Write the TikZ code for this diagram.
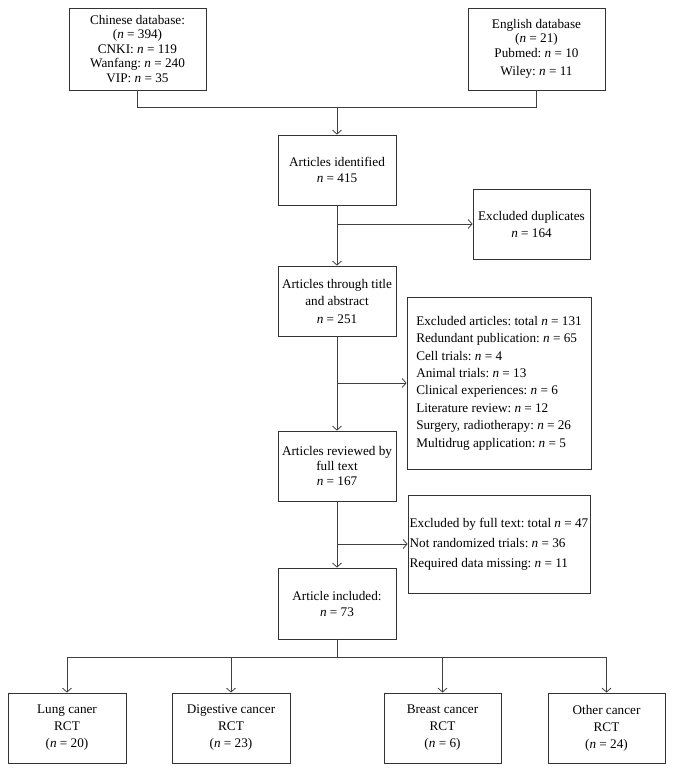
\documentclass[tikz,border=0pt]{standalone}
\usepackage{fontspec}
\setmainfont{Liberation Serif}
\usetikzlibrary{arrows.meta}
\newcommand\nvar{\textit{n}}
\frenchspacing
\begin{document}
\begin{tikzpicture}[x=1pt,y=-1pt,
  box/.style={draw=black!80,line width=0.8pt,align=center,inner sep=0pt,text=black},
  fs/.style={font=\frenchspacing\fontsize{13.2}{#1}\selectfont},
  ln/.style={draw=black!75,line width=0.8pt},
  arr/.style={ln,-{Straight Barb[length=4pt,width=9pt]}}]
\useasboundingbox (0,0) rectangle (674,772);

\node[box,fs=14.5,minimum width=137pt,minimum height=82pt] (chin) at (137.5,49)
  {Chinese database:\\(\nvar{} = 394)\\CNKI: \nvar{} = 119\\Wanfang: \nvar{} = 240\\VIP: \nvar{} = 35};
\node[box,fs=14.5,minimum width=137pt,minimum height=82pt] (eng) at (536.5,49)
  {English database\\(\nvar{} = 21)\\Pubmed: \nvar{} = 10\\[4pt]Wiley: \nvar{} = 11};
\node[box,fs=16,minimum width=118pt,minimum height=70pt] (ai) at (337,170)
  {Articles identified\\\nvar{} = 415};
\node[box,fs=17,minimum width=117pt,minimum height=70pt] (ed) at (531.5,224)
  {Excluded duplicates\\\nvar{} = 164};
\node[box,fs=17.5,minimum width=118pt,minimum height=70pt] (att) at (337,301)
  {Articles through title\\and abstract\\\nvar{} = 251};
\node[box,fs=17.4,align=left,minimum width=184pt,minimum height=172pt] (ea) at (499,383)
  {Excluded articles: total \nvar{} = 131\\Redundant publication: \nvar{} = 65\\Cell trials: \nvar{} = 4\\Animal trials: \nvar{} = 13\\Clinical experiences: \nvar{} = 6\\Literature review: \nvar{} = 12\\Surgery, radiotherapy: \nvar{} = 26\\Multidrug application: \nvar{} = 5};
\node[box,fs=15,minimum width=118pt,minimum height=70pt] (arb) at (337,466)
  {Articles reviewed by\\full text\\\nvar{} = 167};
\node[box,fs=20,align=left,minimum width=182pt,minimum height=98pt] (eft) at (499,544)
  {Excluded by full text: total \nvar{} = 47\\Not randomized trials: \nvar{} = 36\\Required data missing: \nvar{} = 11};
\node[box,fs=16,minimum width=118pt,minimum height=71pt] (ain) at (337,603.5)
  {Article included:\\\nvar{} = 73};
\node[box,fs=17,minimum width=118pt,minimum height=70pt] (lung) at (67,728)
  {Lung caner\\RCT\\(\nvar{} = 20)};
\node[box,fs=17,minimum width=118pt,minimum height=70pt] (dig) at (231,728)
  {Digestive cancer\\RCT\\(\nvar{} = 23)};
\node[box,fs=17,minimum width=117pt,minimum height=70pt] (brs) at (442.5,728)
  {Breast cancer\\RCT\\(\nvar{} = 6)};
\node[box,fs=17,minimum width=117pt,minimum height=70pt] (oth) at (606.5,728)
  {Other cancer\\RCT\\(\nvar{} = 24)};

\coordinate (j) at (337,107);
\coordinate (b) at (337,657);
\coordinate (s1) at (ai.south |- ed.west);
\coordinate (s2) at (att.south |- ea.west);
\coordinate (s3) at (arb.south |- eft.west);

\draw[ln] (chin.south) |- (eng.south |- j) -- (eng.south);
\draw[arr] (j) -- (ai.north);
\draw[arr] (ai.south) -- (att.north);
\draw[arr] (s1) -- (ed.west);
\draw[arr] (att.south) -- (arb.north);
\draw[arr] (s2) -- (ea.west);
\draw[arr] (arb.south) -- (ain.north);
\draw[arr] (s3) -- (eft.west);
\draw[ln] (ain.south) -- (b);
\draw[ln] (lung.north |- b) -- (oth.north |- b);
\draw[arr] (lung.north |- b) -- (lung.north);
\draw[arr] (dig.north |- b) -- (dig.north);
\draw[arr] (brs.north |- b) -- (brs.north);
\draw[arr] (oth.north |- b) -- (oth.north);
\end{tikzpicture}
\end{document}
